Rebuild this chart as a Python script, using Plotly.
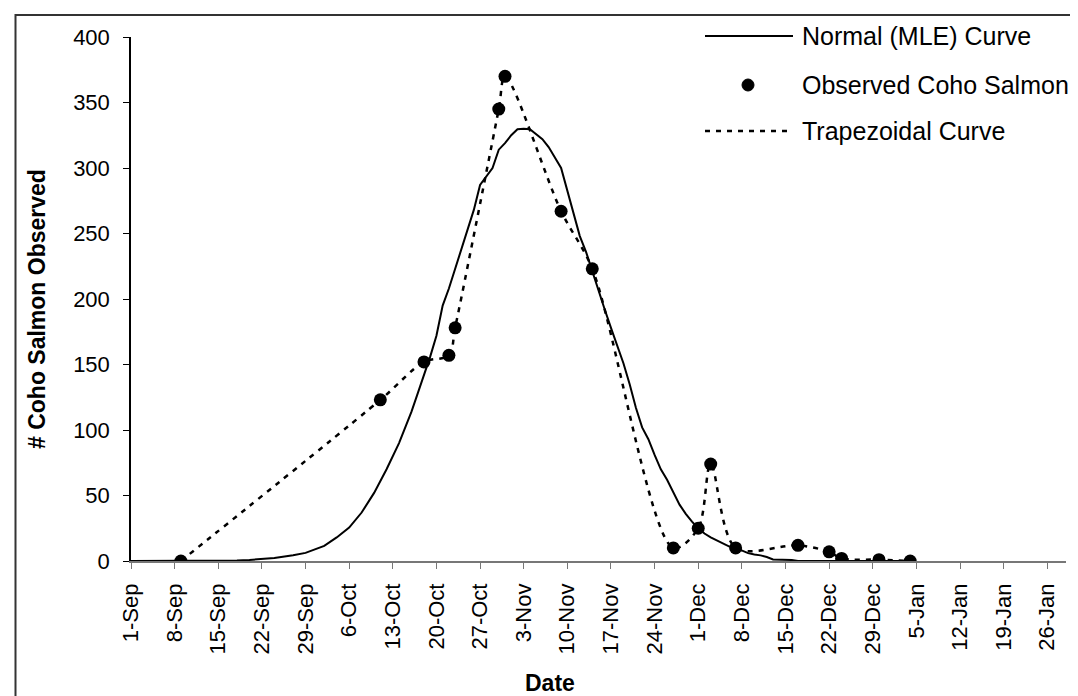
import pandas as pd
import plotly.graph_objects as go

# ---------------- data ----------------
start_date = "2005-09-01"

obs_dates = ["2005-09-09", "2005-10-11", "2005-10-18", "2005-10-22", "2005-10-23",
             "2005-10-30", "2005-10-31", "2005-11-09", "2005-11-14", "2005-11-27",
             "2005-12-01", "2005-12-03", "2005-12-07", "2005-12-17", "2005-12-22",
             "2005-12-24", "2005-12-30", "2006-01-04"]
obs_counts = [0, 123, 152, 157, 178, 345, 370, 267, 223, 10,
              25, 74, 10, 12, 7, 2, 1, 0]

normal_days = [0, 14, 17, 19, 20, 23, 26, 28, 31, 33,
               35, 37, 39, 41, 43, 45, 46, 47, 48, 49,
               50, 51, 52, 53, 55, 56, 58, 59, 60, 61,
               62, 63, 64, 66, 67, 69, 70, 71, 72, 73,
               74, 75, 76, 77, 78, 79, 80, 81, 82, 83,
               84, 85, 86, 87, 88, 89, 90, 91, 92, 93,
               94, 95, 96, 97, 98, 99, 100, 101, 102, 103,
               106, 107, 125]
normal_vals = [0, 0, 0.3, 0.8, 1.2, 2.3, 4.4, 6.2, 11.5, 18,
               25.5, 37, 52, 70, 90, 114, 128, 142, 156, 172,
               195, 208, 223, 238, 268, 287, 300, 314, 319, 325,
               329.6, 330, 329.6, 322, 316, 300, 282, 265, 248, 236,
               221, 207, 192, 178, 164, 151, 135, 117, 102, 93,
               81, 70, 62, 53, 43, 36, 30, 25, 21, 18,
               15.5, 13, 11, 10, 8, 6, 5, 4.3, 3, 1.2,
               0.8, 0, 0]

tick_dates = ["2005-09-01", "2005-09-08", "2005-09-15", "2005-09-22", "2005-09-29",
              "2005-10-06", "2005-10-13", "2005-10-20", "2005-10-27", "2005-11-03",
              "2005-11-10", "2005-11-17", "2005-11-24", "2005-12-01", "2005-12-08",
              "2005-12-15", "2005-12-22", "2005-12-29", "2006-01-05", "2006-01-12",
              "2006-01-19", "2006-01-26"]
tick_labels = ["1-Sep", "8-Sep", "15-Sep", "22-Sep", "29-Sep", "6-Oct", "13-Oct",
               "20-Oct", "27-Oct", "3-Nov", "10-Nov", "17-Nov", "24-Nov", "1-Dec",
               "8-Dec", "15-Dec", "22-Dec", "29-Dec", "5-Jan", "12-Jan", "19-Jan",
               "26-Jan"]
x_range = ["2005-09-01", "2006-01-29"]
y_ticks = [0, 50, 100, 150, 200, 250, 300, 350, 400]

legend_names = ["Normal (MLE) Curve", "Observed Coho Salmon", "Trapezoidal Curve"]

normal_dates = pd.Timestamp(start_date) + pd.to_timedelta(normal_days, unit="D")

# ---------------- layout geometry ----------------
W, H = 1078, 696
ML, MR, MT, MB = 123, 20, 29, 143
PW, PH = W - ML - MR, H - MT - MB
FONT = "Liberation Sans, Arial, sans-serif"


def px(xp):
    return (xp - ML) / PW


def py(yp):
    return (H - MB - yp) / PH


fig = go.Figure()

fig.add_trace(go.Scatter(
    x=normal_dates, y=normal_vals, mode="lines", name=legend_names[0],
    line=dict(color="black", width=2), showlegend=False))

fig.add_trace(go.Scatter(
    x=obs_dates, y=obs_counts, mode="lines", name=legend_names[2],
    line=dict(color="black", width=2.5, dash="5px,6px", shape="spline", smoothing=0.9),
    showlegend=False))

fig.add_trace(go.Scatter(
    x=obs_dates, y=obs_counts, mode="markers", name=legend_names[1],
    marker=dict(color="black", size=13), showlegend=False))

fig.update_xaxes(
    type="date", range=x_range, tickvals=tick_dates, ticktext=tick_labels,
    tickangle=-90, ticks="outside", ticklen=6, tickcolor="#777777",
    showline=True, linecolor="#777777", linewidth=1.5, showgrid=False,
    zeroline=False, tickfont=dict(family=FONT, size=22, color="black"),
    ticklabelstandoff=6, automargin=False)

fig.update_yaxes(
    range=[0, 400], tickvals=y_ticks, ticks="outside", ticklen=6,
    tickcolor="black", showline=True, linecolor="black", linewidth=1.5,
    showgrid=False, zeroline=False, ticklabelstandoff=9,
    tickfont=dict(family=FONT, size=22, color="black"), automargin=False)

legend_rows = [28, 77, 123]

shapes = []
# outer chart border (extends past page on right/bottom)
shapes.append(dict(type="rect", xref="paper", yref="paper",
                   x0=px(7.5), x1=px(1300), y0=py(900), y1=py(7),
                   line=dict(color="#333333", width=2), fillcolor="rgba(0,0,0,0)"))
# legend samples
shapes.append(dict(type="line", xref="paper", yref="paper",
                   x0=px(697), x1=px(785), y0=py(legend_rows[0]), y1=py(legend_rows[0]),
                   line=dict(color="black", width=2)))
shapes.append(dict(type="circle", xref="paper", yref="paper",
                   x0=px(734), x1=px(746), y0=py(legend_rows[1] + 6), y1=py(legend_rows[1] - 6),
                   fillcolor="black", line=dict(color="black", width=1)))
shapes.append(dict(type="line", xref="paper", yref="paper",
                   x0=px(697), x1=px(780), y0=py(legend_rows[2]), y1=py(legend_rows[2]),
                   line=dict(color="black", width=2.5, dash="5px,6px")))

annotations = []
for name, yy in zip(legend_names, legend_rows):
    annotations.append(dict(text=name, xref="paper", yref="paper",
                            x=px(792), y=py(yy), xanchor="left", yanchor="middle",
                            showarrow=False,
                            font=dict(family=FONT, size=25, color="black")))
annotations.append(dict(text="<b>Date</b>", xref="paper", yref="paper",
                        x=px(542), y=py(675), xanchor="center", yanchor="middle",
                        showarrow=False, font=dict(family=FONT, size=23, color="black")))
annotations.append(dict(text="<b># Coho Salmon Observed</b>", xref="paper", yref="paper",
                        x=px(29), y=py(301), xanchor="center", yanchor="middle",
                        textangle=-90, showarrow=False,
                        font=dict(family=FONT, size=23, color="black")))

fig.update_layout(
    width=W, height=H, margin=dict(l=ML, r=MR, t=MT, b=MB, autoexpand=False),
    paper_bgcolor="white", plot_bgcolor="white", showlegend=False,
    shapes=shapes, annotations=annotations)

fig.write_html("out.html")
